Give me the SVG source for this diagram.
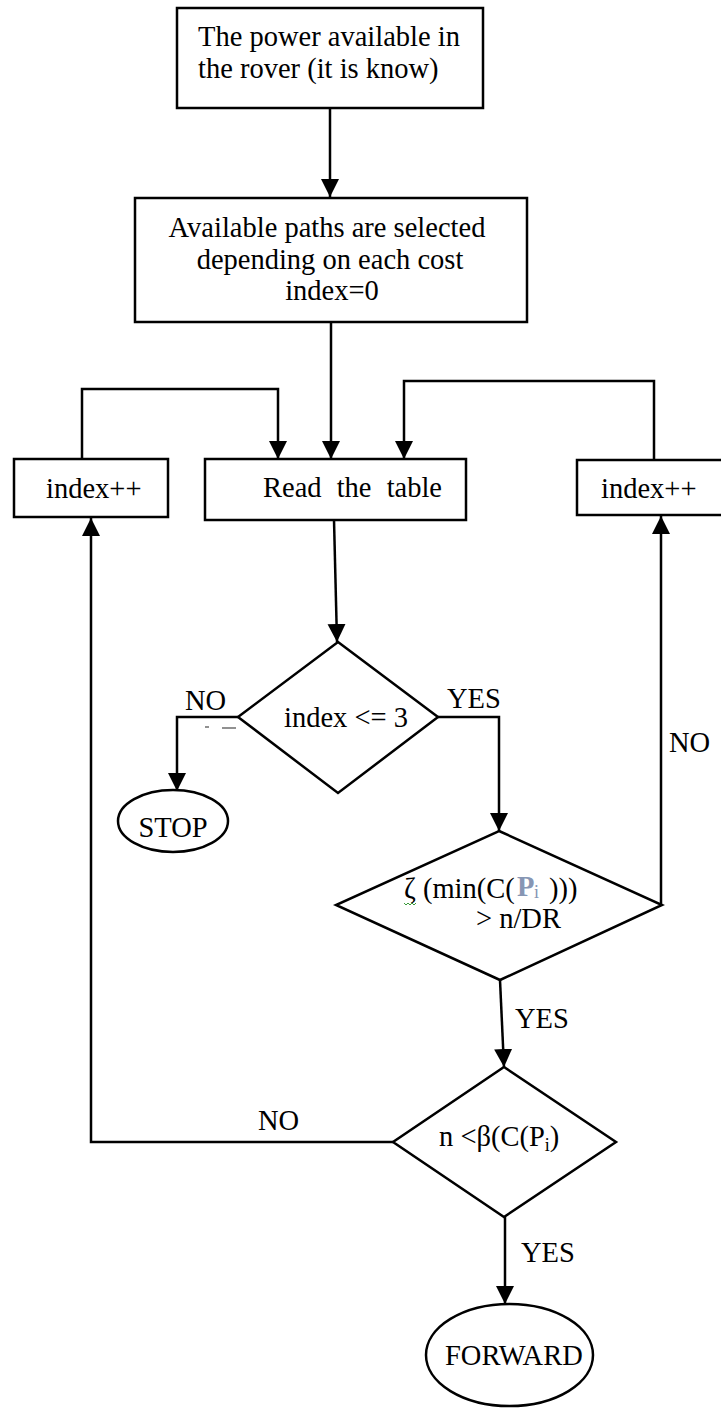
<svg xmlns="http://www.w3.org/2000/svg" width="721" height="1409" viewBox="0 0 721 1409">
<defs>
<marker id="arr" markerUnits="userSpaceOnUse" markerWidth="20" markerHeight="20" refX="18" refY="9" orient="auto">
<path d="M0,0 L18,9 L0,18 z" fill="#000"/>
</marker>
<style>
.box{fill:#fff;stroke:#000;stroke-width:2.5}
.shape{fill:#fff;stroke:#000;stroke-width:2.5}
.t{font-family:"Liberation Serif","Times New Roman",serif;font-size:28.5px;fill:#000}
.c{stroke:#000;stroke-width:2.5;fill:none}
.ca{stroke:#000;stroke-width:2.5;fill:none;marker-end:url(#arr)}
</style>
</defs>
<rect width="721" height="1409" fill="#fff"/>

<g id="connectors">
<path class="ca" d="M330,108 V197"/>
<path class="ca" d="M331,322 V459"/>
<path class="ca" d="M82,459 V389 H278 V459"/>
<path class="ca" d="M654,460 V381 H404 V459"/>
<path class="ca" d="M334,520 L337,642"/>
<path class="ca" d="M238,717 H177 V791"/>
<path class="ca" d="M438,717 H499 V831"/>
<path class="ca" d="M661,905 V516"/>
<path class="ca" d="M500,980 L504,1067"/>
<path class="ca" d="M393,1142 H91 V518"/>
<path class="ca" d="M505,1217 V1304"/>
<line x1="205" y1="727" x2="209" y2="727" stroke="#555" stroke-width="1.3"/>
<line x1="222" y1="728" x2="236" y2="728" stroke="#555" stroke-width="1.3"/>
<text class="t" x="185" y="710">NO</text>
<text class="t" x="447" y="708">YES</text>
<text class="t" x="669" y="752">NO</text>
<text class="t" x="515" y="1028">YES</text>
<text class="t" x="258" y="1130">NO</text>
<text class="t" x="521" y="1262">YES</text>
</g>

<g id="n1">
<rect class="box" x="177" y="8" width="306" height="100"/>
<text class="t" x="198" y="46">The power available in</text>
<text class="t" x="198" y="78">the rover (it is know)</text>
</g>

<g id="n2">
<rect class="box" x="135" y="198" width="392" height="124"/>
<text class="t" x="327" y="237" text-anchor="middle">Available paths are selected</text>
<text class="t" x="330" y="269" text-anchor="middle">depending on each cost</text>
<text class="t" x="332" y="300" text-anchor="middle">index=0</text>
</g>

<g id="n3">
<rect class="box" x="14" y="459" width="154" height="58"/>
<text class="t" x="46" y="498">index++</text>
</g>

<g id="n4">
<rect class="box" x="205" y="459" width="261" height="61"/>
<text class="t" x="263" y="497" word-spacing="8">Read the table</text>
</g>

<g id="n5">
<rect class="box" x="577" y="460" width="170" height="55"/>
<text class="t" x="601" y="498">index++</text>
</g>

<g id="n6">
<polygon class="shape" points="338,642 438,717 338,793 238,717"/>
<text class="t" x="284" y="727">index &lt;= 3</text>
</g>

<g id="n7">
<ellipse class="shape" cx="173" cy="821" rx="55" ry="31"/>
<text class="t" x="173" y="837" text-anchor="middle">STOP</text>
</g>

<g id="n8">
<polygon class="shape" points="499,831 662,905 500,980 336,905"/>
<text class="t" x="404" y="898">ζ (min(C(</text>
<text class="t" x="517" y="896" font-weight="bold" style="fill:#8796b4">P</text>
<text class="t" x="534" y="898" style="font-size:18px;fill:#8796b4">i</text>
<text class="t" x="549" y="898">)))</text>
<path d="M404,903 l2,2 l2,-2 l2,2 l2,-2 l2,2 l2,-2" fill="none" stroke="#3a9a3a" stroke-width="1"/>
<text class="t" x="476" y="928">&gt; n/DR</text>
</g>

<g id="n9">
<polygon class="shape" points="504,1067 616,1142 504,1217 393,1142"/>
<text class="t" x="439" y="1146">n &lt;β(C(P<tspan dy="5" style="font-size:18px">i</tspan><tspan dy="-5">)</tspan></text>
</g>

<g id="n10">
<ellipse class="shape" cx="509.5" cy="1355" rx="83.5" ry="51"/>
<text class="t" x="445" y="1365">FORWARD</text>
</g>
</svg>
